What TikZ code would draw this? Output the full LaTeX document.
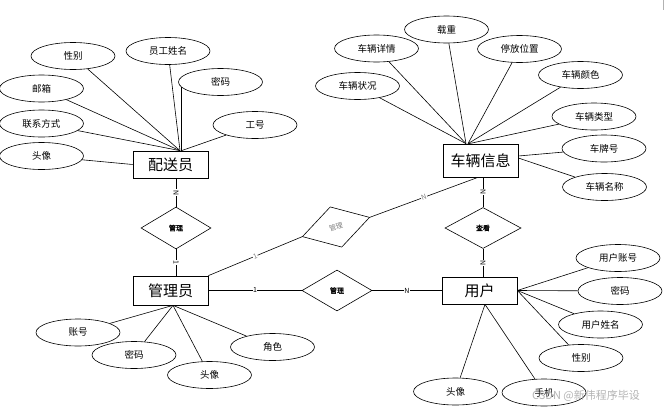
\documentclass[tikz,border=0pt]{standalone}
\usepackage{fontspec}
\setmainfont{Noto Sans CJK SC}
\newfontfamily\relfont[FakeBold=1.2]{Noto Sans CJK SC}
\usetikzlibrary{shapes.geometric,calc}
\tikzset{
  ent/.style={draw, line width=0.7pt, minimum width=75pt, minimum height=29pt, inner sep=0pt, fill=white, font=\fontsize{15}{15}\selectfont},
  attr/.style={draw, ellipse, line width=0.6pt, minimum width=84pt, minimum height=27pt, inner sep=0pt, fill=white, font=\fontsize{9.5}{9.5}\selectfont},
  rel/.style={draw, diamond, line width=0.6pt, minimum width=70pt, minimum height=42pt, inner sep=0pt, fill=white, font=\relfont\fontsize{7}{7}\selectfont},
  ln/.style={line width=0.6pt},
  card/.style={font=\fontsize{7}{7}\selectfont, inner sep=0.5pt, fill=white},
}
\begin{document}
\begin{tikzpicture}[x=1pt,y=-1pt]
\useasboundingbox (0,0) rectangle (665,410);
% entities
\node[ent, minimum height=27pt] (psy) at (170.5,164.5) {配送员};
\node[ent, minimum height=33pt] (clxx) at (480.5,160.5) {车辆信息};
\node[ent] (gly) at (170.5,290.5) {管理员};
\node[ent, minimum height=27pt] (yh) at (479.5,290.5) {用户};
% relations
\node[rel] (r1) at (176,228) {管理};
\node[rel, minimum width=76pt, minimum height=41pt] (r2) at (483,228) {查看};
\node[rel, minimum height=41pt] (r3) at (337,290.5) {管理};
\node[rel, rotate=16, text=gray, font=\fontsize{7}{7}\selectfont] (r4) at (336,227) {管理};
% convergence points
\coordinate (pA) at ($(psy.north)+(9.5,0)$);
\coordinate (pB) at ($(clxx.north)+(-14.5,0)$);
\coordinate (pC) at ($(gly.south)+(2.5,0)$);
\coordinate (pD) at ($(yh.south)+(5.5,0)$);
% 配送员 attributes
\node[attr] (a1) at (73,56) {性别};
\node[attr] (a2) at (168,51) {员工姓名};
\node[attr] (a3) at (220.5,82) {密码};
\node[attr] (a4) at (41.5,88.5) {邮箱};
\node[attr] (a5) at (41.5,123.5) {联系方式};
\node[attr] (a6) at (41.5,156) {头像};
\node[attr] (a7) at (255,125) {工号};
\draw[ln] (a1) -- (pA);
\draw[ln] (a2) -- (pA);
\draw[ln] (a3.188) -- (a3.188 |- psy.north);
\draw[ln] (a4) -- (pA);
\draw[ln] (a5) -- (pA);
\draw[ln] (a6) -- (psy.west);
\draw[ln] (a7) -- ($(psy.north)+(11,0)$);
% 车辆信息 attributes
\node[attr] (b1) at (446.5,29.5) {载重};
\node[attr] (b2) at (376.5,48.5) {车辆详情};
\node[attr] (b3) at (519.5,49) {停放位置};
\node[attr] (b4) at (357.5,86) {车辆状况};
\node[attr] (b5) at (580.5,75) {车辆颜色};
\node[attr] (b6) at (594,116.5) {车辆类型};
\node[attr] (b7) at (604,148.5) {车牌号};
\node[attr] (b8) at (604.5,187) {车辆名称};
\draw[ln] (b1) -- (pB);
\draw[ln] (b2) -- (pB);
\draw[ln] (b3) -- ($(pB)+(2,0)$);
\draw[ln] (b4) -- (pB);
\draw[ln] (b5) -- ($(pB)+(2,0)$);
\draw[ln] (b6) -- ($(pB)+(3,0)$);
\draw[ln] (b7) -- ($(clxx.east)+(0,-4.5)$);
\draw[ln] (b8) -- ($(clxx.east)+(0,-2.5)$);
% 管理员 attributes
\node[attr] (c1) at (78,332.5) {账号};
\node[attr] (c2) at (134,355) {密码};
\node[attr] (c3) at (209.5,375) {头像};
\node[attr] (c4) at (272.5,347) {角色};
\draw[ln] (c1) -- (pC);
\draw[ln] (c2) -- (pC);
\draw[ln] (c3) -- (pC);
\draw[ln] (c4) -- (pC);
% 用户 attributes
\node[attr] (d1) at (618,258) {用户账号};
\node[attr] (d2) at (620,291) {密码};
\node[attr] (d3) at (600.5,324.5) {用户姓名};
\node[attr] (d4) at (581,358) {性别};
\node[attr] (d5) at (455.5,391.5) {头像};
\node[attr] (d6) at (544,392.5) {手机};
\draw[ln] (d1) -- (yh.east);
\draw[ln] (d2) -- (yh.east);
\draw[ln] (d3) -- (yh.east);
\draw[ln] (d4) -- (yh.east);
\draw[ln] (d5) -- (pD);
\draw[ln] (d6) -- (pD);
% relation connectors
\draw[ln] (r1.north) -- node[card, sloped]{N} (r1.north |- psy.south);
\draw[ln] (r1.south) -- node[card, sloped]{1} (r1.south |- gly.north);
\draw[ln] (r2.north) -- node[card, sloped]{N} (r2.north |- clxx.south);
\draw[ln] (r2.south) -- node[card, sloped]{N} (r2.south |- yh.north);
\draw[ln] (gly.east) -- node[card]{1} (r3.west);
\draw[ln] (r3.east) -- node[card]{N} (yh.west);
\draw[ln] (gly.north east) -- node[card, sloped, text=gray]{1} (r4.west);
\draw[ln] (r4.east) -- node[card, sloped, text=gray]{N} ($(clxx.south)+(-2.5,0)$);
% page edge mark
\draw[gray!60, line width=0.6pt] (663.5,0) -- (663.5,10);
% watermark
\node[text=gray!70, opacity=0.85, font=\fontsize{11}{11}\selectfont, anchor=west, inner sep=0pt] (wm) at (532,396) {CSDN @新伟程序毕设};
\end{tikzpicture}
\end{document}
